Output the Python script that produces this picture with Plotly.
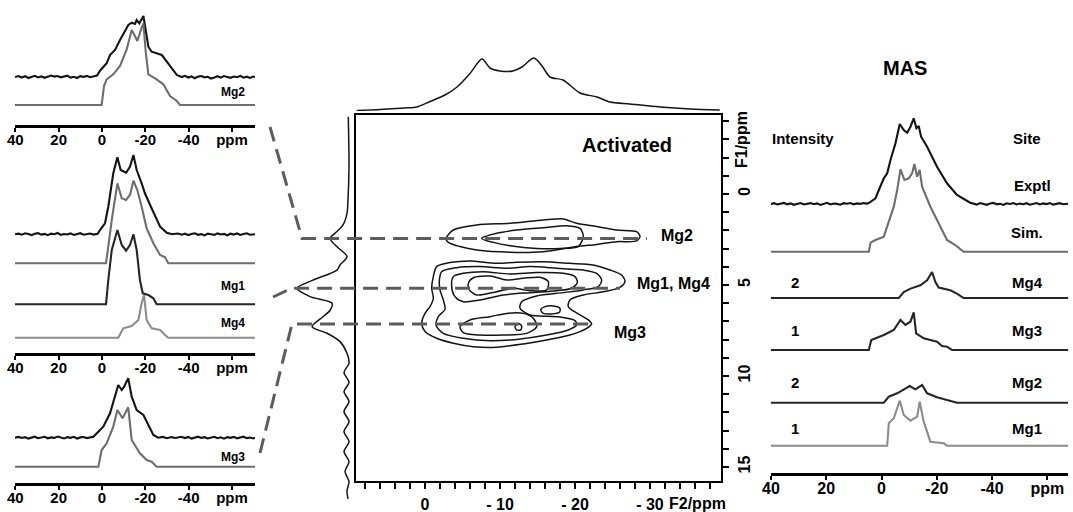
import plotly.graph_objects as go

W, H = 1073, 512

# ------------------------------------------------------------------ data
# Shared baseline grids for the noisy experimental traces (ppm)
LEFT_NOISE_L_PPM = [40.15, 38.5, 37, 35.5, 34, 32.5, 31, 29.5, 28, 26.5, 25, 23.5, 22, 20.5, 19, 17.5, 16,
                    14.5, 13, 11.5, 10, 8.5, 7, 5.5, 4]
LEFT_NOISE_R_PPM = [-38.3, -39.8, -41.3, -42.8, -44.3, -45.8, -47.3, -48.8, -50.3, -51.8, -53.3, -54.8, -56.3,
                    -57.8, -59.3, -60.8, -62.3, -63.8, -65.3, -66.8, -68.3, -69.8, -70.6]

# Left column: 2D slices (ppm, intensity above own baseline, arb. units)
P1_EXP_NOISE_L = [0, 1, -0.5, 0.8, -1, 0.3, 1.2, -0.4, 0.6, -0.8, 0.2, 1.5, 0.4, 1.0, -0.3, 0.5, 1.3, -0.6,
                  0.2, -1.0, 0.8, 0.1, 1.1, -0.2, 0.7]
P1_EXP_PEAK_PPM = [2.3, 0.92, -2.15, -3.69, -6.0, -8.31, -10.6, -12.15, -13.7, -15.2, -16.0, -17.2, -19.1, -20.3,
                   -21.4, -22.9, -25.2, -27.6, -29.9, -32.2, -34.5, -36.8]
P1_EXP_PEAK_INT = [1.5, 6.3, 13.7, 22, 27, 37, 45.3, 52, 54.3, 53, 57, 53.7, 61, 43.7,
                   30.3, 25.3, 23.7, 22, 15.3, 8.7, 2, 0]
P1_EXP_NOISE_R = [1.2, -0.5, 0.6, -1.2, 0.4, 1.0, -0.3, 0.2, -1.5, -0.4, 0.8, -0.6, 0.9, 0.1, -0.8, 0.5, -0.2,
                  1.1, -0.7, 0.3, -0.9, 0.4, 0]
P1_SIM_PPM = [40.15, 0.15, -0.92, -2.15, -5.2, -8.31, -11.4, -13.7, -15.2, -16.3, -18.3, -19.1, -20.2, -21.4,
              -25.2, -28.3, -31.4, -34.5, -36.0, -70.6]
P1_SIM_INT = [0, 0, 19, 25.7, 30.7, 39, 55.7, 75, 69, 64, 77.4, 81.7, 52.4, 30.7,
              25.7, 20.7, 9, 4, 0, 0]

P2_EXP_NOISE_L = [0, 0.6, -0.4, 1.0, 0.2, -0.8, 0.5, 1.2, -0.3, 0.4, -0.9, 0.7, 0.1, 1.3, -0.5, 0.3, -0.2,
                  0.9, -0.7, 0.4, 1.1, -0.4, 0.2, 0.8, -0.3]
P2_EXP_PEAK_PPM = [2, 0.92, -1.38, -2.9, -5.2, -7.1, -8.6, -11.1, -12.9, -14.5, -16.0, -18.3, -19.8, -22.2,
                   -24.5, -26.8, -29.9, -32.3, -35.0, -36.8]
P2_EXP_PEAK_INT = [0.5, 4.3, 11, 27.6, 61, 77, 64.3, 61.6, 67.6, 79.3, 64.3, 51, 41, 29.3,
                   17.6, 7.6, 1.6, 0, 0.8, -0.4]
P2_EXP_NOISE_R = [0.6, -0.8, 0.3, 1.0, -0.5, 0.2, -1.1, 0.7, 0.1, -0.6, 0.9, -0.2, 0.4, -1.0, 0.6, -0.3, 0.8,
                  -0.7, 0.2, 1.0, -0.4, 0.3, 0]
P2_SIM_PPM = [40.15, -1.85, -2.9, -4.5, -7.1, -9.1, -11.1, -12.9, -14.5, -16.3, -18.3, -20.6, -23.7, -26.8,
              -29.1, -30.6, -70.6]
P2_SIM_INT = [0, 0, 16.6, 43.3, 80, 65, 63.3, 68.3, 82.6, 73.3, 56.6, 35, 20, 8.3, 6, 0, 0]
P2_MG1_PPM = [40.15, -1.85, -2.9, -4.5, -7.1, -9.1, -11.1, -12.9, -14.5, -16.0, -17.5, -18.8, -21.4, -23.7,
              -25.2, -70.6]
P2_MG1_INT = [0, 0, 24.3, 54.3, 74.3, 59.3, 53.6, 59.3, 70, 54.3, 24.3, 11, 9.3, 6, 0, 0]
P2_MG4_PPM = [40.15, -7.5, -9.8, -13.7, -16.8, -18.3, -19.4, -20.6, -22.9, -26.8, -29.1, -30.6, -70.6]
P2_MG4_INT = [0, 0, 9.4, 11.7, 17.7, 34.4, 42.7, 17.7, 9.4, 7.7, 2.7, 0, 0]

P3_EXP_NOISE_L = [0, 0.8, -0.3, 0.5, -0.9, 0.2, 1.0, -0.5, 0.4, 0.9, -0.6, 0.3, -0.2, 1.1, 0.1, -0.7, 0.6,
                  -0.1, 0.9, -0.8, 0.3, 0.7, -0.4, 0.5, 1.0]
P3_EXP_PEAK_PPM = [1.7, -0.6, -3.7, -6.0, -7.5, -9.1, -10.2, -12.1, -13.7, -16.0, -19.1, -21.4, -23.7, -25.9,
                   -28, -30, -32, -34, -36.5]
P3_EXP_PEAK_INT = [6, 11, 24.4, 41, 52.7, 47.7, 51, 59.4, 41, 27.7, 22.7, 12.7, 2.7, 0,
                   0.8, -0.5, 0.6, -0.3, 0.9]
P3_EXP_NOISE_R = [-0.4, 0.7, -0.9, 0.3, 1.0, -0.2, 0.5, -0.8, 0.2, 0.9, -0.5, 0.4, -1.0, 0.6, -0.1, 0.8,
                  -0.6, 0.3, 1.0, -0.4, 0.2, -0.7, 0]
P3_SIM_PPM = [40.15, 1.7, 0.15, -2.15, -5.2, -7.1, -9.5, -12.1, -13.7, -17.5, -20.6, -22.9, -25.2, -70.6]
P3_SIM_INT = [0, 0, 16.7, 23.4, 40, 56.7, 48.4, 59.4, 26.7, 13.4, 6.7, 5, 0, 0]

LEFT_TICKS = [40, 20, 0, -20, -40, -60]
LEFT_TICKTEXT = ["40", "20", "0", "-20", "-40", "ppm"]

# Centre: 2D contour map (F2 ppm, F1 ppm), one closed contour per list
MG2_OUTER_F2 = [-2.8, -3.78, -6.89, -11.33, -15.78, -18.44, -20.22, -22.89, -25.56, -28.22, -28.67, -28.22,
                -25.56, -22.89, -20.22, -15.78, -11.33, -6.89, -4.67, -3.11]
MG2_OUTER_F1 = [2.44, 1.98, 1.70, 1.61, 1.43, 1.37, 1.61, 1.79, 1.98, 2.07, 2.34, 2.58,
                2.62, 2.77, 2.89, 3.17, 3.20, 3.08, 2.89, 2.66]
MG2_INNER_F2 = [-7.56, -9.56, -12.22, -15.78, -18.89, -20.67, -21.11, -20.44, -18.0, -14.89, -11.33, -9.11]
MG2_INNER_F1 = [2.44, 2.16, 1.98, 1.85, 1.74, 1.89, 2.34, 2.89, 2.99, 2.99, 2.84, 2.66]

LOW_C1_F2 = [-1.56, -3.33, -6.0, -9.56, -12.22, -15.78, -19.33, -22.44, -24.67, -26.22, -26.67, -26.0, -23.78,
             -21.11, -19.33, -19.11, -20.44, -21.78, -22.22, -21.56, -19.33, -16.22, -13.11, -9.56, -6.44,
             -3.78, -1.56, 0.0, 0.44, 0.0, -0.67, -1.11, -0.89, -1.11]
LOW_C1_F1 = [3.99, 3.77, 3.68, 3.81, 3.75, 3.72, 3.81, 3.90, 4.18, 4.45, 4.82, 5.13, 5.37,
             5.55, 5.82, 6.19, 6.59, 6.92, 7.14, 7.38, 7.75, 8.02, 8.24, 8.42, 8.39,
             8.20, 7.93, 7.56, 7.11, 6.56, 6.19, 5.73, 5.18, 4.54]
LOW_C2_F2 = [-2.22, -4.22, -7.33, -10.89, -14.0, -17.56, -21.11, -22.89, -23.56, -23.11, -21.11, -18.44,
             -14.89, -12.89, -12.67, -14.0, -17.56, -20.0, -20.22, -19.11, -16.22, -12.22, -8.67, -5.11,
             -2.44, -1.46, -1.78, -2.67, -2.44, -2.0, -1.92]
LOW_C2_F1 = [4.27, 4.05, 3.99, 4.08, 3.99, 4.08, 4.18, 4.36, 4.73, 5.09, 5.27, 5.42,
             5.60, 5.92, 6.28, 6.65, 6.74, 6.96, 7.20, 7.47, 7.75, 7.99, 8.06, 7.93,
             7.66, 7.20, 6.74, 6.34, 5.82, 5.27, 4.73]
MG1_C3_F2 = [-3.78, -5.11, -7.78, -11.33, -14.89, -18.44, -20.0, -20.31, -19.56, -17.56, -14.0, -10.44,
             -7.33, -5.11, -4.0, -3.56]
MG1_C3_F1 = [4.54, 4.36, 4.27, 4.40, 4.32, 4.36, 4.54, 4.87, 5.18, 5.31, 5.42, 5.55,
             5.82, 5.92, 5.64, 5.09]
MG1_C4_F2 = [-5.78, -6.44, -8.67, -10.89, -13.11, -15.33, -16.44, -16.22, -14.0, -11.78, -9.56, -6.89, -5.92]
MG1_C4_F1 = [4.91, 4.60, 4.51, 4.73, 4.63, 4.58, 4.82, 5.27, 5.31, 5.18, 5.37, 5.55, 5.27]
MG3_C3_F2 = [-4.67, -6.0, -8.67, -10.89, -13.11, -14.44, -14.89, -13.56, -10.44, -7.33, -5.11]
MG3_C3_F1 = [7.29, 6.92, 6.74, 6.56, 6.56, 6.83, 7.29, 7.66, 7.75, 7.75, 7.62]
MG3_C4_F2 = [-12.0, -12.44, -12.89, -12.76, -12.22]
MG3_C4_F1 = [7.29, 7.11, 7.25, 7.47, 7.47]
ISLAND_F2 = [-15.43, -16.0, -17.11, -18.0, -17.92, -16.89, -15.78]
ISLAND_F1 = [6.37, 6.19, 6.15, 6.28, 6.50, 6.59, 6.56]

CONTOURS = [(MG2_OUTER_F2, MG2_OUTER_F1), (MG2_INNER_F2, MG2_INNER_F1), (LOW_C1_F2, LOW_C1_F1),
            (LOW_C2_F2, LOW_C2_F1), (MG1_C3_F2, MG1_C3_F1), (MG1_C4_F2, MG1_C4_F1),
            (MG3_C3_F2, MG3_C3_F1), (MG3_C4_F2, MG3_C4_F1), (ISLAND_F2, ISLAND_F1)]

# F2 projection (top)
F2_PROJ_PPM = [9.1, 6.0, 2.67, 1.1, -0.67, -2.67, -4.27, -6.0, -7.6, -8.67, -10.0, -11.73, -12.93, -14.53,
               -15.6, -16.67, -18.4, -20.67, -22.93, -24.67, -27.33, -31.33, -35.33, -39.3]
F2_PROJ_INT = [0.5, 1.5, 3, 4, 9.5, 16, 24, 37.5, 52, 43, 40, 40, 44, 53,
               45, 34, 31, 18, 14, 9, 7, 4, 2, 1]
# F1 projection (left)
F1_PROJ_PPM = [-4.25, -1.5, 0.3, 1.06, 1.7, 2.16, 2.44, 2.9, 3.44, 3.9, 4.18, 4.73, 5.18, 5.64, 6.0, 6.4,
               6.74, 7.29, 7.65, 8.11, 8.75, 9.3, 9.8, 10.35, 10.85, 11.4, 11.95, 12.5, 13.05, 13.6, 14.15,
               14.7, 15.25, 15.8, 16.3, 16.75]
F1_PROJ_INT = [0.7, 0, 1, 2, 6, 14, 19, 12, 2, 9, 12, 36, 52, 39, 17, 19,
               26, 37, 22, 9, 2, 0, 5, 0, 5, 0, 5, 0, 5, 0, 5,
               0, 4, 0, 2, 1]
SITE_F1 = {"Mg2": 2.44, "Mg1, Mg4": 5.18, "Mg3": 7.14}
SITE_LINE_END_F2 = {"Mg2": -29.6, "Mg1, Mg4": -26.0, "Mg3": -22.4}

F2_TICKS = list(range(8, -40, -2))
F2_LABELS = {0: "0", -10: "- 10", -20: "- 20", -30: "- 30"}
F1_TICKS = list(range(-4, 16))
F1_LABELS = {0: "0", 5: "5", 10: "10", 15: "15"}

# Right: MAS spectra
MAS_NOISE_L_PPM = [40.1, 38.9, 37.7, 36.5, 35.3, 34.1, 32.9, 31.7, 30.5, 29.3, 28.1, 26.9, 25.7, 24.5, 23.3,
                   22.1, 20.9, 19.7, 18.5, 17.3, 16.1, 14.9, 13.7, 12.5, 11.3, 10.1, 8.9, 7.7, 6.5, 5.3]
MAS_EXP_NOISE_L = [0, 0.8, -0.4, 0.5, 1.1, -0.3, 0.6, -0.8, 0.2, 1.0, -0.5, 0.4, 0.9, -0.2, 0.6, -0.9, 0.3,
                   1.2, -0.4, 0.5, 0.1, -0.7, 0.8, 0.2, 1.0, -0.3, 0.6, 0.1, 0.9, 0.4]
MAS_EXP_PEAK_PPM = [4.58, 2.17, 0.97, -0.83, -2.06, -3.25, -5.05, -6.61, -8.05, -9.28, -10.47, -11.66, -12.64,
                    -13.47, -14.33, -16.5, -18.3, -20.1, -23.7, -27.3, -32.1]
MAS_EXP_PEAK_INT = [1.0, 5.7, 14, 25.7, 30.7, 44, 60.7, 80, 74, 71.3, 77.3, 85.7, 75.7,
                    78, 67.3, 57.3, 47.3, 37.3, 20.7, 9, 1.3]
MAS_NOISE_R_PPM = [-33.3, -34.5, -35.7, -36.9, -38.1, -39.3, -40.5, -41.7, -42.9, -44.1, -45.3, -46.5, -47.7,
                   -48.9, -50.1, -51.3, -52.5, -53.7, -54.9, -56.1, -57.3, -58.5, -59.7, -60.9, -62.1, -63.3,
                   -64.5, -65.7, -66.9, -67.6]
MAS_EXP_NOISE_R = [0.4, -0.6, 0.9, 0.1, -0.8, 0.5, 1.1, -0.3, 0.2, -0.9, 0.7, 0.0, 1.0, -0.5, 0.4, -0.2, 0.8,
                   -0.7, 0.3, 1.0, -0.4, 0.6, -0.1, 0.9, -0.6, 0.2, 0.8, -0.3, 0.5, 0.2]
MAS_SIM_PPM = [40.1, 4.58, 3.97, 2.17, -0.83, -3.25, -4.44, -5.67, -6.86, -8.3, -9.86, -11.08, -11.91, -12.89,
               -13.83, -14.69, -17.69, -20.1, -23.7, -26.7, -29.7, -67.6]
MAS_SIM_INT = [0, 0, 9, 11.7, 15, 35, 45, 61.7, 82.4, 71.7, 73.4, 78.4, 87.7, 75,
               81.7, 65, 45, 31.7, 11.7, 6.7, 0, 0]
MAS_MG4_PPM = [40.1, -6.25, -8.05, -10.47, -14.08, -16.5, -18.3, -19.5, -20.7, -24.9, -27.3, -29.7, -67.6]
MAS_MG4_INT = [0, 0, 6, 9.4, 12.7, 17.7, 26, 16, 10.4, 7.7, 4.4, 0, 0]
MAS_MG3_PPM = [40.1, 4.58, 3.72, -0.83, -4.44, -6.86, -8.66, -10.47, -11.66, -12.53, -15.27, -20.1, -21.9,
               -23.7, -25.5, -67.6]
MAS_MG3_INT = [0, 0, 10, 15, 20, 30, 25, 28.3, 37.7, 16.7, 11.7, 8.3, 4, 3.3, 0, 0]
MAS_MG2_PPM = [40.1, -0.83, -2.64, -5.67, -10.22, -12.27, -14.69, -16.5, -20.1, -23.7, -27.3, -67.6]
MAS_MG2_INT = [0, 0, 6, 9.4, 16.7, 13.4, 17.7, 9.4, 5.4, 2.7, 0, 0]
MAS_MG1_PPM = [40.1, -2.06, -2.64, -4.44, -6.61, -8.05, -10.47, -12.89, -13.83, -15.27, -17.69, -22.5, -23.7,
               -67.6]
MAS_MG1_INT = [0, 0, 22.4, 27.4, 45, 30.7, 25, 29, 44, 24, 4, 2.4, 0, 0]
MAS_SITES = ["Mg4", "Mg3", "Mg2", "Mg1"]
MAS_INTENSITY = ["2", "1", "2", "1"]
MAS_TICKS = [40, 20, 0, -20, -40, -60]
MAS_TICKTEXT = ["40", "20", "0", "-20", "-40", "ppm"]

# ------------------------------------------------------------------ helpers
def dx(a, b):
    return [a / W, b / W]


def dy(top, bottom):
    return [1 - bottom / H, 1 - top / H]


def px(x):
    return x / W


def py(y):
    return 1 - y / H


FONT = "Liberation Sans, Arial, sans-serif"
BLACK = "#141414"
DARK = "#262626"
GRAY = "#6e6e6e"
LGRAY = "#8c8c8c"
DASH = "#5c5c5c"

fig = go.Figure()


def add_line(x, y, xa, ya, color, width=2.0, shape="linear", smoothing=None):
    line = dict(color=color, width=width, shape=shape)
    if smoothing is not None:
        line["smoothing"] = smoothing
    fig.add_trace(go.Scatter(x=x, y=y, xaxis=xa, yaxis=ya, mode="lines", line=line,
                             hoverinfo="skip", showlegend=False))


def offset(vals, off):
    return [v + off for v in vals]


P1_EXP = (LEFT_NOISE_L_PPM + P1_EXP_PEAK_PPM + LEFT_NOISE_R_PPM, P1_EXP_NOISE_L + P1_EXP_PEAK_INT + P1_EXP_NOISE_R)
P2_EXP = (LEFT_NOISE_L_PPM + P2_EXP_PEAK_PPM + LEFT_NOISE_R_PPM, P2_EXP_NOISE_L + P2_EXP_PEAK_INT + P2_EXP_NOISE_R)
P3_EXP = (LEFT_NOISE_L_PPM + P3_EXP_PEAK_PPM + LEFT_NOISE_R_PPM, P3_EXP_NOISE_L + P3_EXP_PEAK_INT + P3_EXP_NOISE_R)
MAS_EXP = (MAS_NOISE_L_PPM + MAS_EXP_PEAK_PPM + MAS_NOISE_R_PPM,
           MAS_EXP_NOISE_L + MAS_EXP_PEAK_INT + MAS_EXP_NOISE_R)

# ---- left column (three slice panels)
left_panels = [
    ("x", "y", [(*P1_EXP, 48, BLACK), (P1_SIM_PPM, P1_SIM_INT, 20, GRAY)], (0, 125)),
    ("x2", "y2", [(*P2_EXP, 118.7, BLACK), (P2_SIM_PPM, P2_SIM_INT, 89.7, GRAY),
                  (P2_MG1_PPM, P2_MG1_INT, 48.7, DARK), (P2_MG4_PPM, P2_MG4_INT, 15.3, LGRAY)], (140, 353)),
    ("x3", "y3", [(*P3_EXP, 45.3, BLACK), (P3_SIM_PPM, P3_SIM_INT, 16.3, GRAY)], (360, 483)),
]
for xa, ya, series, _ in left_panels:
    for xs, ys, off, col in series:
        add_line(xs, offset(ys, off), xa, ya, col, 2.1)

# ---- centre contour map
for f2, f1 in CONTOURS:
    add_line(f2 + f2[:1], f1 + f1[:1], "x4", "y4", BLACK, 1.5, "spline", 0.8)

add_line(F2_PROJ_PPM, F2_PROJ_INT, "x5", "y5", BLACK, 1.5, "spline", 0.8)
add_line(F1_PROJ_INT, F1_PROJ_PPM, "x6", "y6", BLACK, 1.5, "spline", 0.8)

# ---- right MAS column
mas_series = [(*MAS_EXP, 269, BLACK), (MAS_SIM_PPM, MAS_SIM_INT, 221.3, GRAY),
              (MAS_MG4_PPM, MAS_MG4_INT, 175, DARK), (MAS_MG3_PPM, MAS_MG3_INT, 123, DARK),
              (MAS_MG2_PPM, MAS_MG2_INT, 70.3, DARK), (MAS_MG1_PPM, MAS_MG1_INT, 27.3, LGRAY)]
for xs, ys, off, col in mas_series:
    add_line(xs, offset(ys, off), "x7", "y7", col, 2.1)

# ------------------------------------------------------------------ axes
tickfont = dict(family=FONT, size=15, color="black", weight="bold")
layout = dict(
    template="none",
    width=W, height=H, margin=dict(l=0, r=0, t=0, b=0, autoexpand=False),
    paper_bgcolor="white", plot_bgcolor="rgba(0,0,0,0)", showlegend=False,
)
LEFT_XD = dx(15, 255)
LEFT_RANGE = [40.15, -70.6]
for i, (xa, ya, _, (top, bot)) in enumerate(left_panels):
    xk = "xaxis" if i == 0 else f"xaxis{i + 1}"
    yk = "yaxis" if i == 0 else f"yaxis{i + 1}"
    layout[xk] = dict(domain=LEFT_XD, range=LEFT_RANGE, anchor=ya, showgrid=False, zeroline=False,
                      showline=True, linewidth=3, linecolor="black", ticks="outside", ticklen=4,
                      tickwidth=2, tickcolor="black", tickvals=LEFT_TICKS, ticktext=LEFT_TICKTEXT,
                      ticklabelstandoff=-5, tickfont=tickfont, fixedrange=True, automargin=False)
    layout[yk] = dict(domain=dy(top, bot), range=[0, bot - top], anchor=xa, visible=False, fixedrange=True,
                      automargin=False)

C_LEFT, C_RIGHT, C_TOP, C_BOT = 356, 721, 115, 481
F2_RANGE = [9.2, -39.47]
F1_RANGE = [15.77, -4.34]
layout["xaxis4"] = dict(domain=dx(C_LEFT, C_RIGHT), range=F2_RANGE, anchor="y4", showgrid=False,
                        zeroline=False, showline=True, mirror=True, linewidth=2, linecolor="black",
                        ticks="outside", ticklen=6, tickwidth=2, tickcolor="black", tickvals=F2_TICKS,
                        ticktext=[F2_LABELS.get(t, "") for t in F2_TICKS], ticklabelstandoff=2,
                        tickfont=dict(family=FONT, size=16, color="black", weight="bold"), fixedrange=True,
                        automargin=False)
layout["yaxis4"] = dict(domain=dy(C_TOP, C_BOT), range=F1_RANGE, anchor="x4", side="right", showgrid=False,
                        zeroline=False, showline=True, mirror=True, linewidth=2, linecolor="black",
                        ticks="outside", ticklen=6, tickwidth=2, tickcolor="black", tickvals=F1_TICKS,
                        ticktext=[F1_LABELS.get(t, "") for t in F1_TICKS], tickangle=-90,
                        ticklabelstandoff=2,
                        tickfont=dict(family=FONT, size=16, color="black", weight="bold"), fixedrange=True,
                        automargin=False)
layout["xaxis5"] = dict(domain=dx(C_LEFT, C_RIGHT), range=F2_RANGE, anchor="y5", visible=False,
                        fixedrange=True, automargin=False)
layout["yaxis5"] = dict(domain=dy(30, 111), range=[0, 81], anchor="x5", visible=False, fixedrange=True,
                        automargin=False)
layout["xaxis6"] = dict(domain=dx(280, 352), range=[69, -3], anchor="y6", visible=False, fixedrange=True,
                        automargin=False)
layout["yaxis6"] = dict(domain=dy(100, 500), range=[16.81, -5.165], anchor="x6", visible=False,
                        fixedrange=True, automargin=False)

layout["xaxis7"] = dict(domain=dx(770.7, 1068.3), range=[40.1, -67.6], anchor="y7", showgrid=False,
                        zeroline=False, showline=True, linewidth=3, linecolor="black", ticks="outside",
                        ticklen=4, tickwidth=2, tickcolor="black", tickvals=MAS_TICKS, ticktext=MAS_TICKTEXT,
                        ticklabelstandoff=-5,
                        tickfont=dict(family=FONT, size=16, color="black", weight="bold"), fixedrange=True,
                        automargin=False)
layout["yaxis7"] = dict(domain=dy(100, 473), range=[0, 373], anchor="x7", visible=False, fixedrange=True,
                        automargin=False)


# ------------------------------------------------------------------ leader lines
def f1_to_py(f):
    return C_TOP + (f - F1_RANGE[1]) / (F1_RANGE[0] - F1_RANGE[1]) * (C_BOT - C_TOP)


def f2_to_px(f):
    return C_LEFT + (F2_RANGE[0] - f) / (F2_RANGE[0] - F2_RANGE[1]) * (C_RIGHT - C_LEFT)


leader_starts = {"Mg2": ((270, 127), 302), "Mg1, Mg4": ((273, 297), 292), "Mg3": ((260, 453), 292)}
shapes = []
for site, ((sx, sy), cx) in leader_starts.items():
    yy = f1_to_py(SITE_F1[site])
    xe = f2_to_px(SITE_LINE_END_F2[site])
    path = f"M {px(sx)},{py(sy)} L {px(cx)},{py(yy)} L {px(xe)},{py(yy)}"
    shapes.append(dict(type="path", path=path, xref="paper", yref="paper",
                       line=dict(color=DASH, width=3, dash="15px,8px")))
layout["shapes"] = shapes

# ------------------------------------------------------------------ text
ann = []


def text(x, y, s, size=15, anchor="center", angle=0):
    ann.append(dict(x=px(x), y=py(y), xref="paper", yref="paper", text=s, showarrow=False,
                    xanchor=anchor, yanchor="middle", textangle=angle,
                    font=dict(family=FONT, size=size, color="black", weight="bold")))


text(233, 92, "Mg2", 12)
text(233, 286, "Mg1", 12)
text(233, 323, "Mg4", 12)
text(233, 457, "Mg3", 12)
text(627, 145, "Activated", 20)
for site, (lx, ly) in zip(["Mg2", "Mg1, Mg4", "Mg3"], [(677, 235), (673, 283), (630, 332)]):
    text(lx, ly, site, 16)
text(667, 503, "F2/ppm", 16, anchor="left")
text(741, 140, "F1/ppm", 16, angle=-90)
text(905, 68, "MAS", 20)
text(803, 138, "Intensity", 15)
text(1027, 138, "Site", 15)
text(1032, 185, "Exptl", 15)
text(1027, 232, "Sim.", 15)
for site, inten, yy in zip(MAS_SITES, MAS_INTENSITY, [282, 330, 382, 428]):
    text(1027, yy, site, 15)
    text(795, yy, inten, 15)
layout["annotations"] = ann

fig.update_layout(**layout)
fig.write_html(
    "out.html",
    config={"displayModeBar": False, "staticPlot": True},
    post_script="document.body.style.margin='0px';document.body.style.padding='0px';"
                "document.documentElement.style.overflow='hidden';",
)
